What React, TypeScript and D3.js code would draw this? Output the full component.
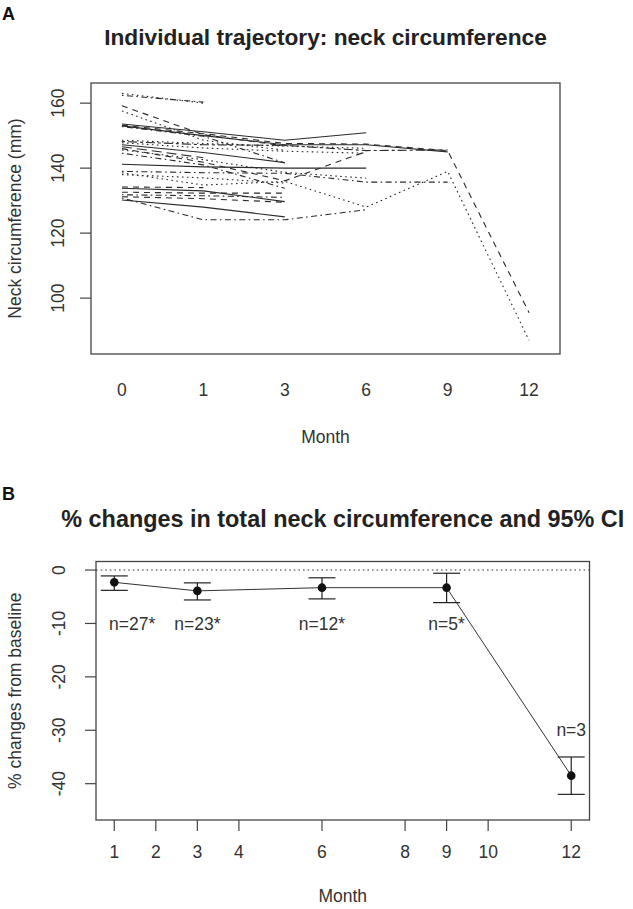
import React from 'react';
import * as d3 from 'd3';

// ---------- Panel A data ----------
const monthsA = [0, 1, 3, 6, 9, 12];
const yTicksA = [100, 120, 140, 160];
// neck circumference (mm) per subject at months 0,1,3,6,9,12 (null = not measured)
const neck: (number | null)[][] = [
  [163.0, 160.0, null, null, null, null],
  [162.4, 160.3, null, null, null, null],
  [159.2, 150.3, 146.8, null, null, null],
  [157.6, 148.6, 145.5, null, null, null],
  [153.6, 151.2, 148.6, 150.9, null, null],
  [153.2, 150.6, 147.6, 147.4, 145.4, 95.5],
  [153.0, 150.0, 147.2, 147.2, 145.0, null],
  [152.8, 149.8, 141.6, null, null, null],
  [148.6, 147.6, 146.8, 146.1, null, null],
  [148.2, 147.2, 147.0, 145.4, 145.6, null],
  [147.8, 146.2, 145.2, 144.6, null, null],
  [147.2, 144.8, 141.7, null, null, null],
  [146.6, 143.2, null, null, null, null],
  [146.0, 141.8, 136.1, 145.1, null, null],
  [145.6, 142.6, 138.7, 136.9, null, null],
  [144.6, 141.0, 133.8, null, null, null],
  [141.2, 140.4, 140.0, 140.0, null, null],
  [139.0, 138.6, 138.4, 135.7, 135.7, null],
  [138.6, 134.8, 135.9, 128.0, 139.0, 87.0],
  [138.0, 137.0, 135.4, null, null, null],
  [134.2, 134.0, null, null, null, null],
  [133.8, 133.0, 129.7, null, null, null],
  [132.6, 132.3, 132.3, null, null, null],
  [131.8, 131.5, 131.0, null, null, null],
  [131.2, 130.6, 129.5, null, null, null],
  [130.8, 124.1, 124.1, 127.2, null, null],
  [130.2, 128.0, 125.0, null, null, null],
];
const neckLty = [3, 4, 2, 3, 1, 2, 1, 4, 3, 6, 3, 1, 5, 2, 3, 4, 1, 4, 3, 3, 2, 1, 2, 4, 2, 4, 1];

// ---------- Panel B data ----------
const monthsB = [1, 3, 6, 9, 12];
const pctMean = [-2.3, -3.9, -3.3, -3.3, -38.5];
const pctLower = [-3.8, -5.6, -5.4, -6.1, -42.0];
const pctUpper = [-1.1, -2.4, -1.45, -0.6, -35.0];
const nLabels = ['n=27*', 'n=23*', 'n=12*', 'n=5*', 'n=3'];
const nLabelX = [1.43, 3, 6, 9, 12];
const nLabelY = [-10, -10, -10, -10, -30];
const xTicksB = [1, 2, 3, 4, 6, 8, 9, 10, 12];
const yTicksB = [0, -10, -20, -30, -40];

const FONT = '"Liberation Sans", Arial, Helvetica, sans-serif';
const TXT = '#333';
const AX = '#444';

const dashFor = (lty: number) => {
  switch (lty) {
    case 2: return '6 5';
    case 3: return '1.6 3.4';
    case 4: return '1.6 3.4 6 3.4';
    case 5: return '10 5';
    case 6: return '3 3 9 3';
    default: return undefined;
  }
};

export default function App() {
  // Panel A geometry
  const aL = 91, aR = 560, aT = 83, aB = 354;
  const xA = d3.scaleLinear().domain([-0.38, 5.38]).range([aL, aR]);
  const yA = d3.scaleLinear().domain([82.8, 166.2]).range([aB, aT]);
  const lineA = d3
    .line<number | null>()
    .defined((d) => d != null)
    .x((_, i) => xA(i))
    .y((d) => yA(d as number));

  // Panel B geometry
  const bL = 96, bR = 589.5, bT = 561.5, bB = 820;
  const xB = d3.scaleLinear().domain([0.56, 12.44]).range([bL, bR]);
  const yB = d3.scaleLinear().domain([-46.8, 1.6]).range([bB, bT]);
  const lineB = d3
    .line<number>()
    .x((_, i) => xB(monthsB[i]))
    .y((d) => yB(d));

  const fs = 17.5;

  return (
    <svg
      width={633}
      height={909}
      style={{ position: 'absolute', left: 0, top: 0, background: '#fff' }}
      fontFamily={FONT}
    >
      <rect x={0} y={0} width={633} height={909} fill="#fff" />
      {/* ---------------- Panel A ---------------- */}
      <text x={2} y={20} fontSize={18} fontWeight="bold" fill="#111">A</text>
      <text x={(aL + aR) / 2} y={45} fontSize={22.7} fontWeight="bold" fill="#222" textAnchor="middle">
        Individual trajectory: neck circumference
      </text>
      <g>
        {neck.map((s, i) => (
          <path
            key={i}
            d={lineA(s) || ''}
            fill="none"
            stroke="#2a2a2a"
            strokeWidth={1.1}
            strokeDasharray={dashFor(neckLty[i])}
          />
        ))}
      </g>
      <rect x={aL} y={aT} width={aR - aL} height={aB - aT} fill="none" stroke={AX} strokeWidth={1.3} />
      {yTicksA.map((t) => (
        <g key={t}>
          <line x1={aL - 11} x2={aL} y1={yA(t)} y2={yA(t)} stroke={AX} strokeWidth={1.2} />
          <text
            transform={`translate(${58},${yA(t)}) rotate(-90)`}
            fontSize={fs}
            fill={TXT}
            textAnchor="middle"
            dy="0.35em"
          >
            {t}
          </text>
        </g>
      ))}
      {monthsA.map((m, i) => (
        <text key={m} x={xA(i)} y={390} fontSize={fs} fill={TXT} textAnchor="middle" dy="0.35em">
          {m}
        </text>
      ))}
      <text x={(aL + aR) / 2} y={437} fontSize={fs} fill={TXT} textAnchor="middle" dy="0.35em">
        Month
      </text>
      <text
        transform={`translate(${15},${(aT + aB) / 2}) rotate(-90)`}
        fontSize={fs}
        fill={TXT}
        textAnchor="middle"
        dy="0.35em"
      >
        Neck circumference (mm)
      </text>

      {/* ---------------- Panel B ---------------- */}
      <text x={2} y={500} fontSize={18} fontWeight="bold" fill="#111">B</text>
      <text x={(bL + bR) / 2} y={527} fontSize={23.4} fontWeight="bold" fill="#222" textAnchor="middle">
        % changes in total neck circumference and 95% CI
      </text>
      <line x1={bL} x2={bR} y1={yB(0)} y2={yB(0)} stroke="#333" strokeWidth={1} strokeDasharray="1.6 3" />
      <path d={lineB(pctMean) || ''} fill="none" stroke="#333" strokeWidth={1} />
      {monthsB.map((m, i) => (
        <g key={m}>
          <line x1={xB(m)} x2={xB(m)} y1={yB(pctLower[i])} y2={yB(pctUpper[i])} stroke="#222" strokeWidth={1.2} />
          <line x1={xB(m) - 13.5} x2={xB(m) + 13.5} y1={yB(pctLower[i])} y2={yB(pctLower[i])} stroke="#222" strokeWidth={1.2} />
          <line x1={xB(m) - 13.5} x2={xB(m) + 13.5} y1={yB(pctUpper[i])} y2={yB(pctUpper[i])} stroke="#222" strokeWidth={1.2} />
          <circle cx={xB(m)} cy={yB(pctMean[i])} r={4.3} fill="#111" />
        </g>
      ))}
      {nLabels.map((lab, i) => (
        <text key={lab} x={xB(nLabelX[i])} y={yB(nLabelY[i])} fontSize={fs} fill={TXT} textAnchor="middle" dy="0.35em">
          {lab}
        </text>
      ))}
      <rect x={bL} y={bT} width={bR - bL} height={bB - bT} fill="none" stroke={AX} strokeWidth={1.3} />
      {yTicksB.map((t) => (
        <g key={t}>
          <line x1={bL - 11} x2={bL} y1={yB(t)} y2={yB(t)} stroke={AX} strokeWidth={1.2} />
          <text
            transform={`translate(${59},${yB(t)}) rotate(-90)`}
            fontSize={fs}
            fill={TXT}
            textAnchor="middle"
            dy="0.35em"
          >
            {t}
          </text>
        </g>
      ))}
      {xTicksB.map((t) => (
        <g key={t}>
          <line x1={xB(t)} x2={xB(t)} y1={bB} y2={bB + 11} stroke={AX} strokeWidth={1.2} />
          <text x={xB(t)} y={852} fontSize={fs} fill={TXT} textAnchor="middle" dy="0.35em">
            {t}
          </text>
        </g>
      ))}
      <text x={(bL + bR) / 2} y={896} fontSize={fs} fill={TXT} textAnchor="middle" dy="0.35em">
        Month
      </text>
      <text
        transform={`translate(${15},${(bT + bB) / 2}) rotate(-90)`}
        fontSize={fs}
        fill={TXT}
        textAnchor="middle"
        dy="0.35em"
      >
        % changes from baseline
      </text>
    </svg>
  );
}
